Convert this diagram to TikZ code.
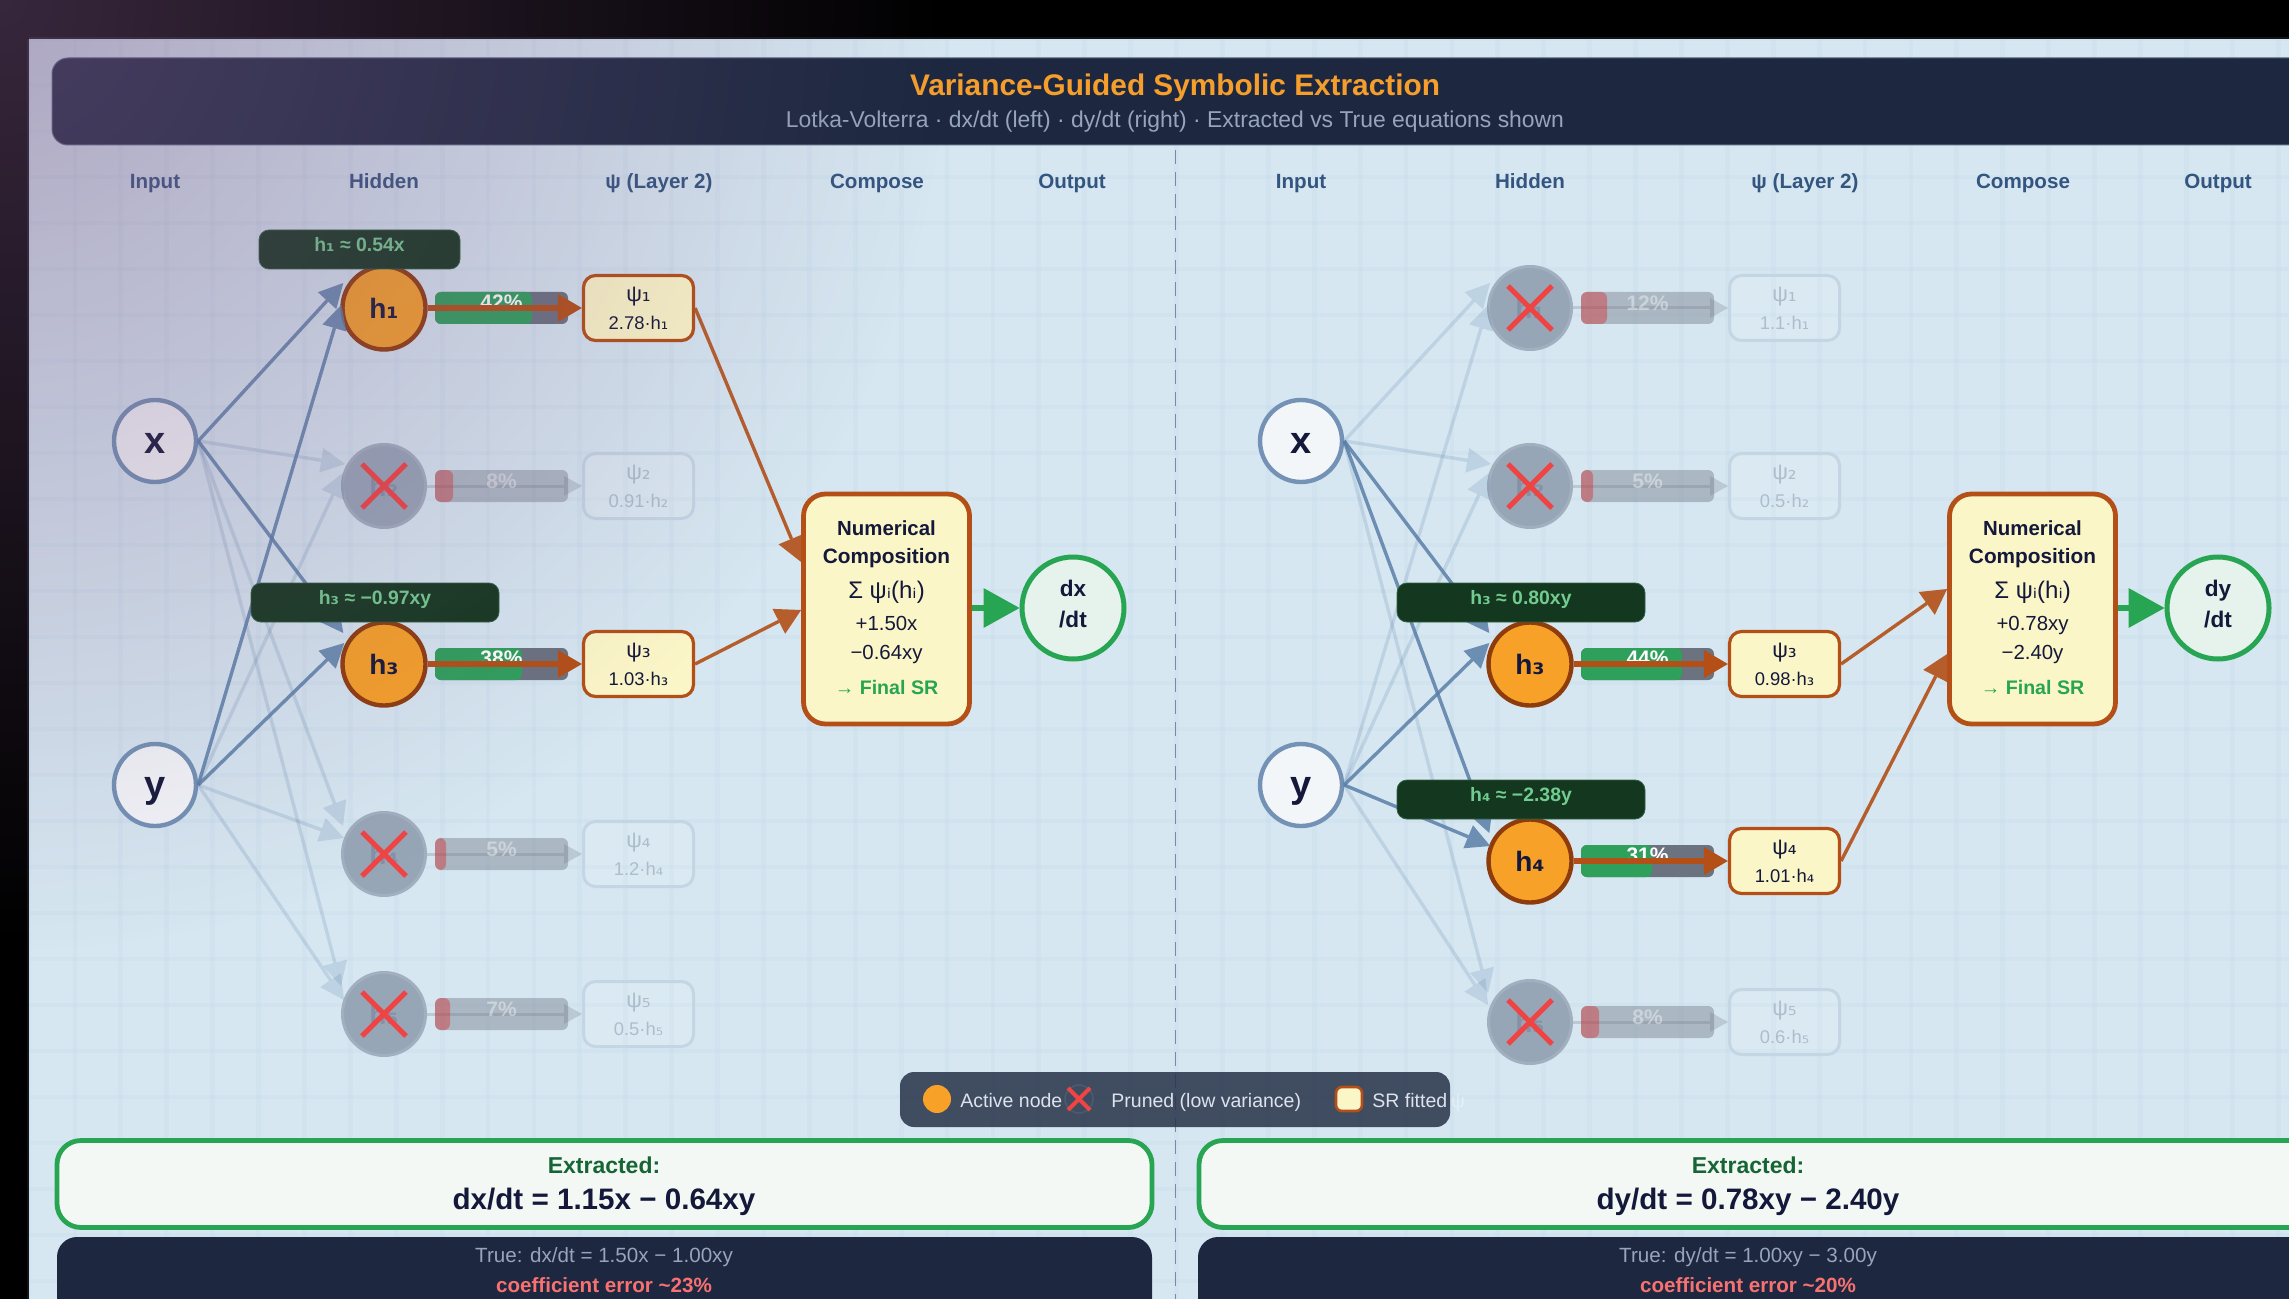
\documentclass[tikz,border=0pt]{standalone}
\usepackage{fontspec}
\setmainfont{Liberation Sans}
\newfontfamily\dvfont{DejaVu Sans}
\usetikzlibrary{arrows.meta,calc,fadings}
\newcommand{\fsz}[1]{\fontsize{#1}{14pt}\selectfont}
\newcommand{\ssb}[1]{{\dvfont #1}}
\definecolor{inkdark}{HTML}{14183A}
\definecolor{activeorange}{HTML}{F7A128}
\definecolor{activeedge}{HTML}{8F3C0D}
\definecolor{srfill}{HTML}{FBF6C8}
\definecolor{srborder}{HTML}{B34F17}
\definecolor{wirecol}{HTML}{5A7FA8}
\definecolor{navy}{HTML}{1D2840}
\definecolor{okgreen}{HTML}{27A552}
\definecolor{barok}{HTML}{2F9F5C}
\definecolor{trackgray}{HTML}{6B7280}
\definecolor{barred}{HTML}{DC2626}
\definecolor{headcol}{HTML}{33557F}
\definecolor{labelfill}{HTML}{14371F}
\definecolor{labeltext}{HTML}{72CB8F}
\definecolor{crossred}{HTML}{EF4444}
\definecolor{prunedgray}{HTML}{97A6B7}
\definecolor{prunedrim}{HTML}{A1AFBF}
\definecolor{prunedtext}{HTML}{8392A6}
\definecolor{psioff}{HTML}{C4D5E3}
\definecolor{psiofftext}{HTML}{AEBDCB}
\definecolor{outfill}{HTML}{E6F2EC}
\definecolor{exfill}{HTML}{F3F8F4}
\definecolor{legendink}{HTML}{DDE3EC}
\definecolor{panelbg}{HTML}{D6E7F1}
\definecolor{gridblue}{HTML}{A9C7E0}
\definecolor{headrim}{HTML}{5A6480}
\definecolor{titleorange}{HTML}{F59E2C}
\definecolor{subgray}{HTML}{96A5BC}
\definecolor{dashcol}{HTML}{7A8A9F}
\definecolor{ringgray}{HTML}{4C5A6E}
\definecolor{exgreen}{HTML}{166534}
\definecolor{errred}{HTML}{F87171}
\definecolor{tintpurple}{RGB}{124,87,135}
\tikzfading[name=cornerfade, inner color=transparent!55, outer color=transparent!100]
\tikzset{
  inputnode/.style={circle,draw=wirecol!85!white,line width=2.2pt,fill=white!93!wirecol,minimum size=41pt,inner sep=0pt,
    text=inkdark,font=\bfseries\fsz{19},text height=12pt,text depth=0pt},
  activehidden/.style={circle,draw=activeedge,line width=2.2pt,fill=activeorange,minimum size=41.5pt,inner sep=0pt,
    text=inkdark,font=\bfseries\fsz{14}},
  prunedhidden/.style={circle,draw=prunedrim,line width=1.5pt,fill=prunedgray,minimum size=41.5pt,inner sep=0pt,
    text=prunedtext,font=\bfseries\fsz{14}},
  xmark/.style={crossred,line width=2.6pt},
  live/.style={wirecol,line width=1.7pt,opacity=.85,-{Triangle[length=12pt,width=12.5pt,line width=0pt]}},
  faint/.style={wirecol,line width=1.7pt,opacity=.2,-{Triangle[length=12pt,width=12.5pt,line width=0pt]}},
  psiarrow/.style={srborder,line width=3pt,-{Triangle[length=12pt,width=14pt,line width=0pt]}},
  psifaint/.style={trackgray,line width=1.5pt,opacity=.25,-{Triangle[length=9pt,width=10pt,line width=0pt]}},
  toComp/.style={srborder,opacity=.9,line width=1.7pt,-{Triangle[length=12.5pt,width=14pt,line width=0pt]}},
  toOut/.style={okgreen,line width=3pt,-{Triangle[length=18pt,width=20pt,line width=0pt]}},
  psibox/.style={rectangle,rounded corners=6pt,draw=srborder,line width=1.6pt,fill=srfill,
    minimum width=55pt,minimum height=32.5pt,inner sep=0pt,align=center,text=inkdark,font=\fsz{9.2}},
  psiboxoff/.style={rectangle,rounded corners=6pt,draw=psioff,line width=1.5pt,fill=white,fill opacity=.12,text opacity=1,
    minimum width=55pt,minimum height=32.5pt,inner sep=0pt,align=center,text=psiofftext,font=\fsz{9.2}},
  compbox/.style={rectangle,rounded corners=11pt,draw=srborder,line width=2.4pt,fill=srfill,
    minimum width=83pt,minimum height=115pt,inner sep=0pt,align=center,text=inkdark,font=\fsz{10.2}},
  outnode/.style={circle,draw=okgreen,line width=2.5pt,fill=outfill,minimum size=51pt,inner sep=0pt,align=center,
    text=inkdark,font=\bfseries\fsz{11.3}},
  barlabel/.style={rectangle,rounded corners=5pt,draw=labeltext!30!labelfill,line width=.4pt,fill=labelfill,minimum height=19.5pt,inner sep=0pt},
  barlabeltext/.style={text=labeltext,font=\bfseries\fsz{9.7},inner sep=0pt,anchor=base},
  colhead/.style={text=headcol,font=\bfseries\fsz{10.3},inner sep=0pt,anchor=base},
  pctlive/.style={text=white,font=\bfseries\fsz{10.5},inner sep=0pt},
  pctoff/.style={text=white,text opacity=.4,font=\bfseries\fsz{10.5},inner sep=0pt},
  legendtext/.style={text=legendink,font=\fsz{9.75},inner sep=0pt,anchor=base west},
  exbox/.style={rectangle,rounded corners=12pt,draw=okgreen,line width=2.4pt,fill=exfill,inner sep=0pt},
}
% name, hidden x, y, subscript, pct, bar end, coefficient
\newcommand{\activeHidden}[4]{\node[activehidden] (h#1) at (#2,#3) {h\ssb{#4}};}
\newcommand{\prunedHidden}[4]{%
  \node[prunedhidden] (h#1) at (#2,#3) {h\ssb{#4}};
  \draw[xmark] ($(h#1)+(-22,-22)$) -- ($(h#1)+(22,22)$);
  \draw[xmark] ($(h#1)+(-22,22)$) -- ($(h#1)+(22,-22)$);}
\newcommand{\activeBar}[7]{%
  \fill[trackgray,rounded corners=3pt] ({#2+51},{#3-16}) rectangle ({#2+184},{#3+16});
  \fill[barok,rounded corners=3pt] ({#2+51},{#3-16}) rectangle (#6,{#3+16});
  \node[pctlive] (pct#1) at ({#2+117.5},{#3-6}) {#5\%};
  \node[psibox] (psi#1) at ({#2+254.5},#3) {{\fsz{11}ψ\ssb{#4}}\\#7·h\ssb{#4}};
  \draw[psiarrow] (h#1.east) -- (psi#1.west);}
\newcommand{\prunedBar}[7]{%
  \node[psiboxoff] (psi#1) at ({#2+254.5},#3) {{\fsz{11}ψ\ssb{#4}}\\#7·h\ssb{#4}};
  \draw[psifaint] (h#1.east) -- (psi#1.west);
  \fill[trackgray,opacity=.4,rounded corners=3pt] ({#2+51},{#3-16}) rectangle ({#2+184},{#3+16});
  \fill[barred,opacity=.4,rounded corners=3pt] ({#2+51},{#3-16}) rectangle (#6,{#3+16});
  \node[pctoff] (pct#1) at ({#2+117.5},{#3-5}) {#5\%};}
\newcommand{\feed}[5]{\draw[#1] (#2.east) -- ($(#3.west)+(#4,#5)$);}
\newcommand{\compLines}[2]{\bfseries Numerical\\\bfseries\fsz{10.4}Composition\\[3.5pt]{\fsz{12}Σ ψ\ssb{ᵢ}(h\ssb{ᵢ})}\\[2.2pt]#1\\[.2pt]#2\\[3.5pt]{\color{okgreen}\bfseries\fsz{9.8}→ Final SR\rule[-1.5pt]{0pt}{1pt}}}
\begin{document}
\begin{tikzpicture}[x=.5pt,y=-.5pt]
\useasboundingbox (0,0) rectangle (2289,1299);
\clip (0,0) rectangle (2289,1299);
\fill[black] (0,0) rectangle (2289,1299);
\fill[panelbg] (29,39) rectangle (2289,1299);
\foreach \k in {0,...,49} \draw[gridblue,line width=2.4pt,opacity=.1] ({29+45.9*\k},39) -- ({29+45.9*\k},1299);
\foreach \k in {0,...,27} \draw[gridblue,line width=2.4pt,opacity=.1] (29,{39+46*\k}) -- (2289,{39+46*\k});
\draw[rounded corners=8pt,draw=headrim,line width=.5pt,fill=navy] (52,58) rectangle (2320,145);
\node[text=titleorange,font=\bfseries\fsz{14.9},inner sep=0pt] (title) at (1175,88) {Variance-Guided Symbolic Extraction};
\node[text=subgray,font=\fsz{11.45},inner sep=0pt] (subtitle) at (1175,122) {Lotka-Volterra · dx/dt (left) · dy/dt (right) · Extracted vs True equations shown};
\coordinate (divtop) at (1175.5,150);
\coordinate (divbot) at (1175.5,1299);
\draw[dashcol,line width=.9pt,dash pattern=on 7pt off 4pt] (divtop) -- (divbot);
% column heads
\foreach \nm/\xx/\tx in {a/155/Input,b/384/Hidden,c/659/ψ (Layer 2),d/877/Compose,e/1072/Output,f/1301/Input,g/1530/Hidden,i/1805/ψ (Layer 2),j/2023/Compose,k/2218/Output}
  \node[colhead] (head\nm) at (\xx,189) {\tx};
% ---- left network
\node[inputnode] (Lx) at (155,441) {x};
\node[inputnode] (Ly) at (155,785) {y};
\activeHidden{La}{384}{308}{₁}
\prunedHidden{Lb}{384}{486}{₂}
\activeHidden{Lc}{384}{664}{₃}
\prunedHidden{Ld}{384}{854}{₄}
\prunedHidden{Le}{384}{1014}{₅}
\feed{faint}{Lx}{hLb}{4}{-22}
\feed{faint}{Ly}{hLb}{2}{-13}
\feed{faint}{Lx}{hLd}{2}{-28}
\feed{faint}{Ly}{hLd}{3}{-16}
\feed{faint}{Lx}{hLe}{0}{-28}
\feed{faint}{Ly}{hLe}{3}{-14}
\feed{live}{Lx}{hLa}{3}{-25}
\feed{live}{Ly}{hLa}{1}{-3}
\feed{live}{Lx}{hLc}{3}{-31}
\feed{live}{Ly}{hLc}{4}{-21}
\activeBar{La}{384}{308}{₁}{42}{532}{2.78}
\prunedBar{Lb}{384}{486}{₂}{8}{453}{0.91}
\activeBar{Lc}{384}{664}{₃}{38}{522}{1.03}
\prunedBar{Ld}{384}{854}{₄}{5}{446}{1.2}
\prunedBar{Le}{384}{1014}{₅}{7}{450}{0.5}
\node[compbox] (Lcomp) at (886.5,609) {\compLines{+1.50x}{−0.64xy}};
\node[outnode] (Lout) at (1073,608) {dx\\[1.5pt]/dt\rule[-4.4pt]{0pt}{1pt}};
\draw[toComp] (psiLa.east) -- ($(Lcomp.west)+(0,-47)$);
\draw[toComp] (psiLc.east) -- ($(Lcomp.west)+(0,1)$);
\draw[toOut] (Lcomp.east |- Lout) -- (Lout.west);
\node[barlabel,minimum width=100.5pt] (labLa) at (359.5,249.5) {};
\node[barlabeltext] (labLaT) at (359.5,251.5) {h\ssb{₁} ≈ 0.54x};
\node[barlabel,minimum width=124pt] (labLc) at (375,602.5) {};
\node[barlabeltext] (labLcT) at (375,604.5) {h\ssb{₃} ≈ −0.97xy};
% ---- right network
\node[inputnode] (Rx) at (1301,441) {x};
\node[inputnode] (Ry) at (1301,785) {y};
\prunedHidden{Ra}{1530}{308}{₁}
\prunedHidden{Rb}{1530}{486}{₂}
\activeHidden{Rc}{1530}{664}{₃}
\activeHidden{Rd}{1530}{861}{₄}
\prunedHidden{Re}{1530}{1022}{₅}
\feed{faint}{Rx}{hRa}{3}{-25}
\feed{faint}{Ry}{hRa}{1}{-3}
\feed{faint}{Rx}{hRb}{4}{-22}
\feed{faint}{Ry}{hRb}{2}{-13}
\feed{faint}{Rx}{hRe}{1}{-29}
\feed{faint}{Ry}{hRe}{1}{-17}
\feed{live}{Rx}{hRc}{3}{-31}
\feed{live}{Ry}{hRc}{3}{-21}
\feed{live}{Rx}{hRd}{3}{-28}
\feed{live}{Ry}{hRd}{4}{-15}
\prunedBar{Ra}{1530}{308}{₁}{12}{1607}{1.1}
\prunedBar{Rb}{1530}{486}{₂}{5}{1593}{0.5}
\activeBar{Rc}{1530}{664}{₃}{44}{1682}{0.98}
\activeBar{Rd}{1530}{861}{₄}{31}{1652}{1.01}
\prunedBar{Re}{1530}{1022}{₅}{8}{1599}{0.6}
\node[compbox] (Rcomp) at (2032.5,609) {\compLines{+0.78xy}{−2.40y}};
\node[outnode] (Rout) at (2218,608) {dy\\[1.5pt]/dt\rule[-4.4pt]{0pt}{1pt}};
\draw[toComp] (psiRc.east) -- ($(Rcomp.west)+(0,-20)$);
\draw[toComp] (psiRd.east) -- ($(Rcomp.west)+(0,45)$);
\draw[toOut] (Rcomp.east |- Rout) -- (Rout.west);
\node[barlabel,minimum width=124pt] (labRc) at (1521,602.5) {};
\node[barlabeltext] (labRcT) at (1521,604.5) {h\ssb{₃} ≈ 0.80xy};
\node[barlabel,minimum width=124pt] (labRd) at (1521,799.5) {};
\node[barlabeltext] (labRdT) at (1521,801.5) {h\ssb{₄} ≈ −2.38y};
% ---- legend
\fill[navy!95!white,opacity=.86,rounded corners=7pt] (900,1072) rectangle (1450,1127);
\node[circle,fill=activeorange,minimum size=14pt,inner sep=0pt] (legA) at (937,1099) {};
\node[legendtext] (legAT) at (960,1107) {Active node};
\node[circle,draw=ringgray,line width=.8pt,minimum size=14pt,inner sep=0pt] (legB) at (1079,1099) {};
\draw[xmark,line width=2pt] ($(legB)+(-11,-11)$) -- ($(legB)+(11,11)$);
\draw[xmark,line width=2pt] ($(legB)+(-11,11)$) -- ($(legB)+(11,-11)$);
\node[legendtext] (legBT) at (1111,1107) {Pruned (low variance)};
\node[rectangle,rounded corners=3pt,draw=srborder,line width=1.3pt,fill=srfill,minimum width=13pt,minimum height=12pt,inner sep=0pt] (legC) at (1349,1099) {};
\node[legendtext] (legCT) at (1372,1107) {SR fitted};
\node[text=white,text opacity=.35,font=\fsz{9.75},inner sep=0pt,anchor=base] (legTail) at (1458,1107) {ψ};
% ---- bottom panels
\node[exbox,minimum width=547.5pt,minimum height=43.5pt] (exL) at (604.5,1184) {};
\node[text=exgreen,font=\bfseries\fsz{11.5},inner sep=0pt] (exLa) at (604,1165) {Extracted:};
\node[text=inkdark,font=\bfseries\fsz{14.8},inner sep=0pt] (exLb) at (604,1201.5) {dx/dt = 1.15x − 0.64xy};
\node[exbox,minimum width=640pt,minimum height=43.5pt] (exR) at (1839,1184) {};
\node[text=exgreen,font=\bfseries\fsz{11.5},inner sep=0pt] (exRa) at (1748,1165) {Extracted:};
\node[text=inkdark,font=\bfseries\fsz{14.8},inner sep=0pt] (exRb) at (1748,1201.5) {dy/dt = 0.78xy − 2.40y};
\fill[navy,rounded corners=10pt] (57,1237) rectangle (1152,1340);
\fill[navy,rounded corners=10pt] (1198,1237) rectangle (2340,1340);
\node[text=subgray,font=\fsz{10.3},inner sep=0pt] (trL) at (604,1257) {True: dx/dt = 1.50x − 1.00xy};
\node[text=errred,font=\bfseries\fsz{10.3},inner sep=0pt] (erL) at (604,1285) {coefficient error \textasciitilde 23\%};
\node[text=subgray,font=\fsz{10.3},inner sep=0pt] (trR) at (1748,1257) {True: dy/dt = 1.00xy − 3.00y};
\node[text=errred,font=\bfseries\fsz{10.3},inner sep=0pt] (erR) at (1748,1285) {coefficient error \textasciitilde 20\%};
% ---- tint over the top-left corner of the whole image
\fill[tintpurple,path fading=cornerfade] (0,0) circle [radius=950];
\end{tikzpicture}
\end{document}
